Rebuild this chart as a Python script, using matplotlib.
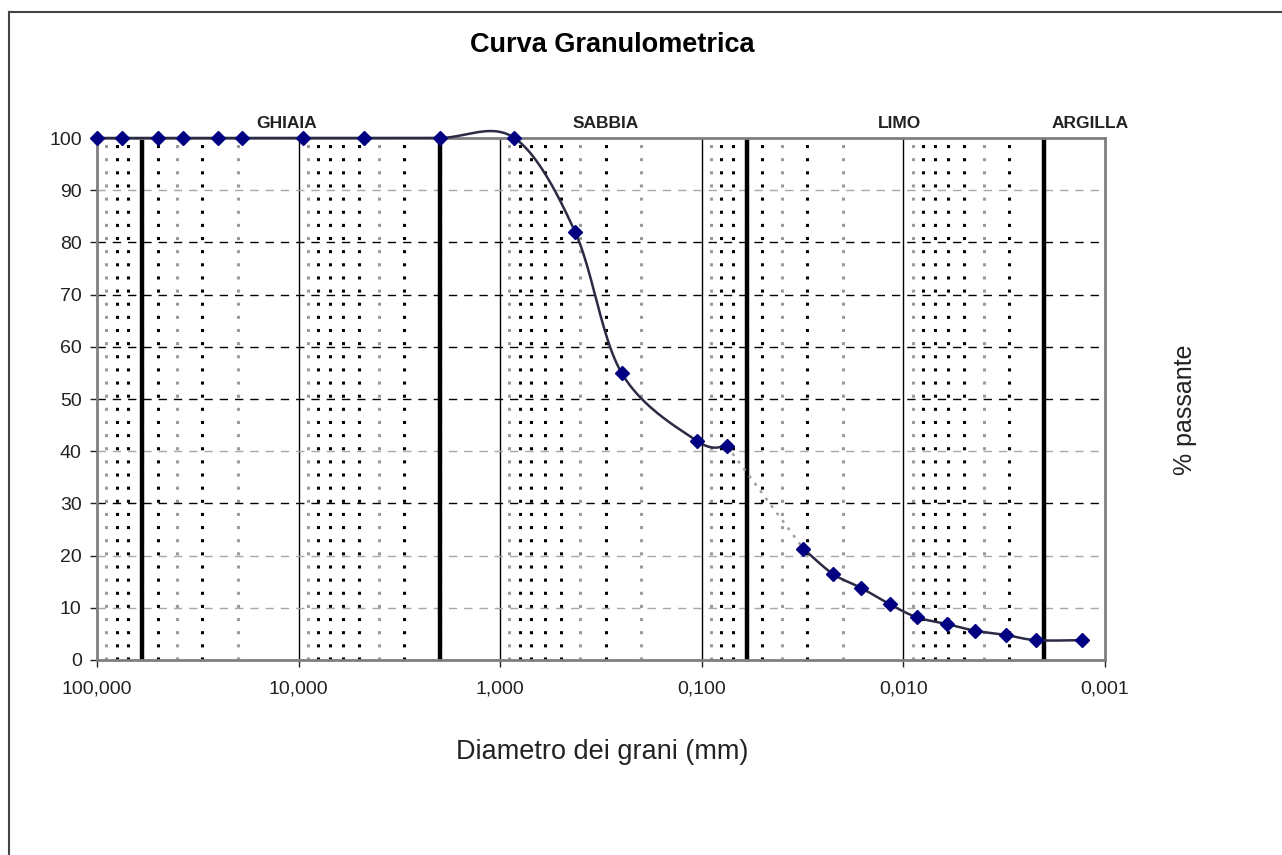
import numpy as np
import matplotlib.pyplot as plt
from matplotlib.lines import Line2D

plt.rcParams['font.family'] = ['Liberation Sans', 'DejaVu Sans']

# setacciatura (mm, % passante)
diam_setacci = [100, 75, 50, 37.5, 25, 19, 9.5, 4.75, 2, 0.85, 0.425, 0.25, 0.106, 0.075]
pass_setacci = [100, 100, 100, 100, 100, 100, 100, 100, 100, 100, 82, 55, 42, 41]

# sedimentazione (mm, % passante)
diam_sedim = [0.0313, 0.0224, 0.0162, 0.0117, 0.0086, 0.0061, 0.0044, 0.0031, 0.0022, 0.0013]
pass_sedim = [21.3, 16.5, 13.8, 10.7, 8.2, 6.9, 5.6, 4.8, 3.8, 3.8]

# limiti tra le classi (mm)
limiti = [60, 2, 0.06, 0.002]
classi = ['GHIAIA', 'SABBIA', 'LIMO', 'ARGILLA']
pos_classi = [11.5, 0.3, 0.0105, 0.00118]

decadi = [100, 10, 1, 0.1, 0.01, 0.001]
etichette_x = ['100,000', '10,000', '1,000', '0,100', '0,010', '0,001']
griglia_y = [10, 20, 30, 40, 50, 60, 70, 80, 90]
grigie_y = [10, 20, 40, 90]


def smooth(xs, ys, n=25):
    # curva smussata (tipo Excel) in coordinate log-x
    P = np.column_stack([np.log10(xs), np.asarray(ys, float)])
    P = np.vstack([P[0], P, P[-1]])
    t = np.linspace(0, 1, n)[:, None]
    out = []
    for i in range(1, len(P) - 2):
        p0, p1, p2, p3 = P[i - 1], P[i], P[i + 1], P[i + 2]
        seg = 0.5 * (2 * p1 + (-p0 + p2) * t
                     + (2 * p0 - 5 * p1 + 4 * p2 - p3) * t ** 2
                     + (-p0 + 3 * p1 - 3 * p2 + p3) * t ** 3)
        out.append(seg)
    out = np.vstack(out)
    return 10 ** out[:, 0], out[:, 1]


fig = plt.figure(figsize=(12.82, 8.55), dpi=100)
ax = fig.add_axes([97 / 1282, 1 - 660 / 855, 1008 / 1282, 522 / 855])

ax.set_xscale('log')
ax.set_xlim(100, 0.001)
ax.set_ylim(0, 100)

# griglia verticale minore (punteggiata)
for e in range(-3, 2):
    for k in range(2, 10):
        v = k * 10.0 ** e
        col = '#9a9a9a' if k in (9, 4, 2) else 'black'
        ax.axvline(v, color=col, lw=2.2, ls=(0, (1, 3.3)), zorder=1)

# griglia verticale maggiore
for v in decadi[1:-1]:
    ax.axvline(v, color='black', lw=1.0, zorder=1)

# griglia orizzontale tratteggiata
for v in griglia_y:
    col = '#a8a8a8' if v in grigie_y else 'black'
    ax.axhline(v, color=col, lw=1.0, ls=(0, (6, 5)), zorder=1)

# limiti delle classi
for v in limiti:
    ax.axvline(v, color='black', lw=3.2, zorder=2)

# curva granulometrica
sx, sy = smooth(diam_setacci, pass_setacci)
ax.plot(sx, sy, color='#2b2b45', lw=1.8, zorder=4, clip_on=False)
sx, sy = smooth(diam_sedim, pass_sedim)
ax.plot(sx, sy, color='#2b2b45', lw=1.8, zorder=4)
ax.plot([diam_setacci[-1], diam_sedim[0]], [pass_setacci[-1], pass_sedim[0]],
        color='#a0a0a0', lw=1.8, ls=(0, (1.2, 2.5)), zorder=4)
ax.plot(diam_setacci, pass_setacci, ls='none', marker='D', ms=7,
        color='#000080', zorder=5, clip_on=False)
ax.plot(diam_sedim, pass_sedim, ls='none', marker='D', ms=7,
        color='#000080', zorder=5, clip_on=False)

# nomi delle classi
for nome, x in zip(classi, pos_classi):
    ax.text(x, 101.3, nome, ha='center', va='bottom', fontsize=12.5,
            fontweight='bold', color='#222222')

ax.set_xticks(decadi)
ax.set_xticklabels(etichette_x)
ax.xaxis.set_minor_locator(plt.NullLocator())
ax.set_yticks(range(0, 101, 10))
ax.tick_params(axis='both', direction='out', length=5, width=1,
               labelsize=14, colors='#222222', pad=6)
ax.tick_params(axis='x', pad=10)

for s in ax.spines.values():
    s.set_color('#7f7f7f')
    s.set_linewidth(2)

fig.text(602 / 1282, 1 - 752 / 855, 'Diametro dei grani (mm)', ha='center',
         va='center', fontsize=19.5, color='#222222')
fig.text(1185 / 1282, 1 - 410 / 855, '% passante', ha='center', va='center',
         rotation=90, fontsize=18, color='#222222')
fig.text(612 / 1282, 1 - 45 / 855, 'Curva Granulometrica', ha='center',
         va='center', fontsize=19.5, fontweight='bold')

# cornice del grafico
fig.add_artist(Line2D([9 / 1282, 9 / 1282], [0, 1 - 12 / 855],
                      transform=fig.transFigure, color='#444444', lw=1.5))
fig.add_artist(Line2D([9 / 1282, 1], [1 - 12 / 855, 1 - 12 / 855],
                      transform=fig.transFigure, color='#444444', lw=1.5))

fig.savefig('out.png', dpi=100)
